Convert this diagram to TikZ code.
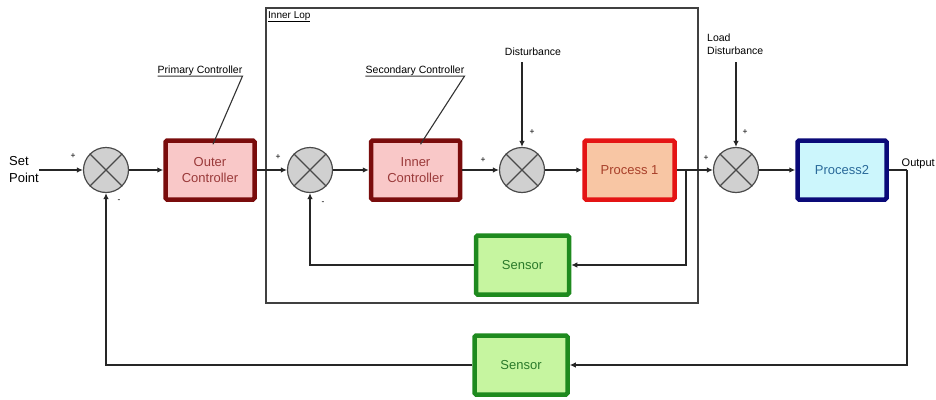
\documentclass[tikz,border=0pt]{standalone}
\usepackage{fontspec}
\setmainfont{Liberation Sans}
\usetikzlibrary{arrows.meta}
\definecolor{ctrlF}{HTML}{F9C8C8}
\definecolor{ctrlB}{HTML}{7A0C0C}
\definecolor{ctrlT}{HTML}{9A3A3A}
\definecolor{pOneF}{HTML}{F8C6A4}
\definecolor{pOneB}{HTML}{E41414}
\definecolor{pOneT}{HTML}{A8402A}
\definecolor{pTwoF}{HTML}{CCF6FC}
\definecolor{pTwoB}{HTML}{0A0A78}
\definecolor{pTwoT}{HTML}{2A6A9A}
\definecolor{sensF}{HTML}{C6F5A0}
\definecolor{sensB}{HTML}{1E8A1E}
\definecolor{sensT}{HTML}{2A7A2A}
\definecolor{sumF}{HTML}{D0D0D0}
\definecolor{sumB}{HTML}{4A4A4A}
\begin{document}
\begin{tikzpicture}[x=1pt,y=-1pt,
  blk/.style={draw, line width=4.5pt, rounded corners=1.5pt, minimum width=89pt, minimum height=59pt,
    align=center, font=\fontsize{13}{16}\selectfont, inner sep=2pt},
  ctrl/.style={blk, draw=ctrlB, fill=ctrlF, text=ctrlT},
  procone/.style={blk, draw=pOneB, fill=pOneF, text=pOneT, minimum width=90pt},
  proctwo/.style={blk, draw=pTwoB, fill=pTwoF, text=pTwoT},
  sens/.style={blk, draw=sensB, fill=sensF, text=sensT, minimum width=93pt},
  sumn/.style={circle, draw=sumB, fill=sumF, line width=1.2pt, minimum size=45pt, inner sep=0pt},
  sumx/.style={draw=sumB, line width=1.1pt},
  ann/.style={font=\fontsize{10.5}{13}\selectfont, inner sep=0pt},
  sgn/.style={font=\fontsize{8.5}{9}\selectfont, inner sep=0pt},
  wire/.style={line width=1.2pt, draw=black!85},
  arr/.style={wire, -{Latex[length=6pt,width=5.5pt]}},
  lead/.style={line width=1.1pt, draw=black!80}
]
\useasboundingbox (0,0) rectangle (936,399);

% inner loop frame
\node[draw=black!75, line width=1.3pt, minimum width=432pt, minimum height=295pt, inner sep=0pt] (loop) at (482,155.5) {};
\node[ann, anchor=north west, font=\fontsize{10}{12}\selectfont] (lbl) at (268,11) {\underline{Inner Lop}};

% blocks
\node[ctrl] (oc) at (210,170) {Outer\\Controller};
\node[ctrl] (ic) at (415.5,170) {Inner\\Controller};
\node[procone] (p1) at (629.5,170) {Process 1};
\node[proctwo] (p2) at (842,170) {Process2};
\node[sens] (se1) at (522.5,265) {Sensor};
\node[sens] (se2) at (521,365) {Sensor};

% summing junctions
\node[sumn] (s1) at (106,170) {};
\node[sumn] (s2) at (310,170) {};
\node[sumn] (s3) at (522,170) {};
\node[sumn] (s4) at (736,170) {};
\foreach \s in {s1,s2,s3,s4}
  \draw[sumx] (\s.north west) -- (\s.south east) (\s.north east) -- (\s.south west);

% texts
\node[align=left, anchor=west, font=\fontsize{13}{17}\selectfont, inner sep=0pt] (sp) at (9,170) {Set\\Point};
\node[anchor=base west, font=\fontsize{11}{13}\selectfont, inner sep=0pt] (out) at (901.5,166) {Output};
\node[ann] (dist) at (533,52) {Disturbance};
\node[ann, align=left, anchor=north west] (ldist) at (707,34) {Load\\Disturbance};
\node[ann] (pc) at (200,71) {Primary Controller};
\node[ann] (sc) at (415,71) {Secondary Controller};

% signs
\node[sgn] (g1) at (73,156) {+};
\node[sgn] (g2) at (119,201) {-};
\node[sgn] (g3) at (278,157) {+};
\node[sgn] (g4) at (323,203) {-};
\node[sgn] (g5) at (483,160) {+};
\node[sgn] (g6) at (532,132) {+};
\node[sgn] (g7) at (706,158) {+};
\node[sgn] (g8) at (745,132) {+};

% coordinates
\coordinate (b1) at (686,170);
\coordinate (o1) at (907,170);
\coordinate (d1) at (522,62);
\coordinate (d2) at (736,62);

% forward path
\draw[arr] (sp.east) -- (s1.west);
\draw[arr] (s1) -- (oc);
\draw[arr] (oc) -- (s2);
\draw[arr] (s2) -- (ic);
\draw[arr] (ic) -- (s3);
\draw[arr] (s3) -- (p1);
\draw[arr] (p1) -- (s4);
\draw[arr] (s4) -- (p2);
\draw[wire] (p2.east) -- (o1);

% disturbances
\draw[arr] (d1) -- (s3.north);
\draw[arr] (d2) -- (s4.north);

% feedback loops
\draw[arr] (b1) |- (se1.east);
\draw[arr] (se1.west) -| (s2.south);
\draw[arr] (o1) |- (se2.east);
\draw[arr] (se2.west) -| (s1.south);

% leaders
\draw[lead] (pc.south west) -- (pc.south east) -- ([shift={(3,6)}]oc.north);
\draw[lead] (sc.south west) -- (sc.south east) -- ([shift={(5,6)}]ic.north);
\end{tikzpicture}
\end{document}
